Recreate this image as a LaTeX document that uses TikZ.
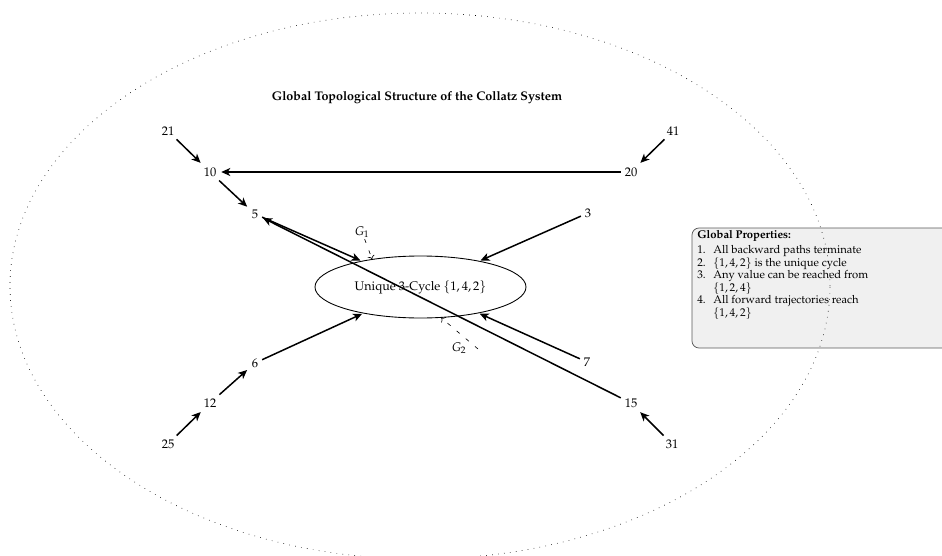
\documentclass[tikz,border=0pt]{standalone}
\usepackage[T1]{fontenc}
\usepackage{mathpazo}
\usetikzlibrary{arrows.meta,shapes.geometric}
\tikzset{
 num/.style={inner sep=3pt, font=\normalsize},
 flow/.style={-{Stealth[length=7.2pt,width=6.4pt,inset=2pt]}, line width=1.2pt, shorten >=0.8pt},
 guide/.style={->, dash pattern=on 3.2pt off 6.4pt, line width=0.5pt},
 cyc/.style={ellipse, draw, line width=0.7pt, minimum width=168.8pt, minimum height=49.6pt, inner sep=0pt},
 propbox/.style={draw=black!65, fill=black!6, rounded corners=5.6pt, line width=0.6pt},
 outer/.style={dash pattern=on 0.5pt off 4.3pt, line width=0.5pt},
}
\begin{document}
\begin{tikzpicture}[x=0.8pt,y=-0.8pt]
\useasboundingbox (0,0) rectangle (942,556);

% properties box
\coordinate (pbA) at (692,228);
\coordinate (pbB) at (960,348);
\draw[propbox] (pbA) rectangle (pbB);
\node[anchor=north west, inner sep=0pt, font=\fontsize{9}{10}\selectfont, align=left] (props) at (697,229.5) {%
\begin{tabular}{@{}p{12.8pt}@{}l@{}}
\multicolumn{2}{@{}l@{}}{\textbf{Global Properties:}}\\[2pt]
1. & All backward paths terminate\\
2. & $\{1,4,2\}$ is the unique cycle\\
3. & Any value can be reached from\\
   & $\{1,2,4\}$\\
4. & All forward trajectories reach\\
   & $\{1,4,2\}$
\end{tabular}};

% title
\node[font=\normalsize\bfseries] (title) at (417,98) {Global Topological Structure of the Collatz System};

% cycle
\node[cyc] (cycle) at (420.5,287) {Unique 3-Cycle $\{1,4,2\}$};

% number nodes
\node[num] (n21) at (168,131) {21};
\node[num] (n10) at (210,172) {10};
\node[num] (n5)  at (255,214) {5};
\node[num] (n41) at (673,131) {41};
\node[num] (n20) at (631,172) {20};
\node[num] (n3)  at (588,213) {3};
\node[num] (n6)  at (255,363) {6};
\node[num] (n12) at (210,403) {12};
\node[num] (n25) at (168,444) {25};
\node[num] (n7)  at (587,362) {7};
\node[num] (n15) at (631,403) {15};
\node[num] (n31) at (672,444) {31};

% edges
\draw[flow] (n21) -- (n10);
\draw[flow] (n10) -- (n5);
\draw[flow] (n20) -- (n10);
\draw[flow] (n41) -- (n20);
\draw[flow] (n5) -- (cycle);
\draw[flow] (n3) -- (cycle);
\draw[flow] (n6) -- (cycle);
\draw[flow] (n12) -- (n6);
\draw[flow] (n25) -- (n12);
\draw[flow] (n7) -- (cycle);
\draw[flow] (n15) -- (n5);
\draw[flow] (n31) -- (n15);

% G labels
\node[inner sep=1pt] (G1) at (362,232) {$G_1$};
\draw[guide] (G1) -- (cycle.150);
\node[inner sep=1pt] (G2) at (459,348) {$G_2$};
\coordinate (g2s) at (478,349);
\draw[guide] (g2s) -- (cycle.-56);

% outer dotted ellipse
\coordinate (oc) at (420,286);
\draw[outer] (oc) ellipse [x radius=328pt, y radius=218.4pt];
\end{tikzpicture}
\end{document}
